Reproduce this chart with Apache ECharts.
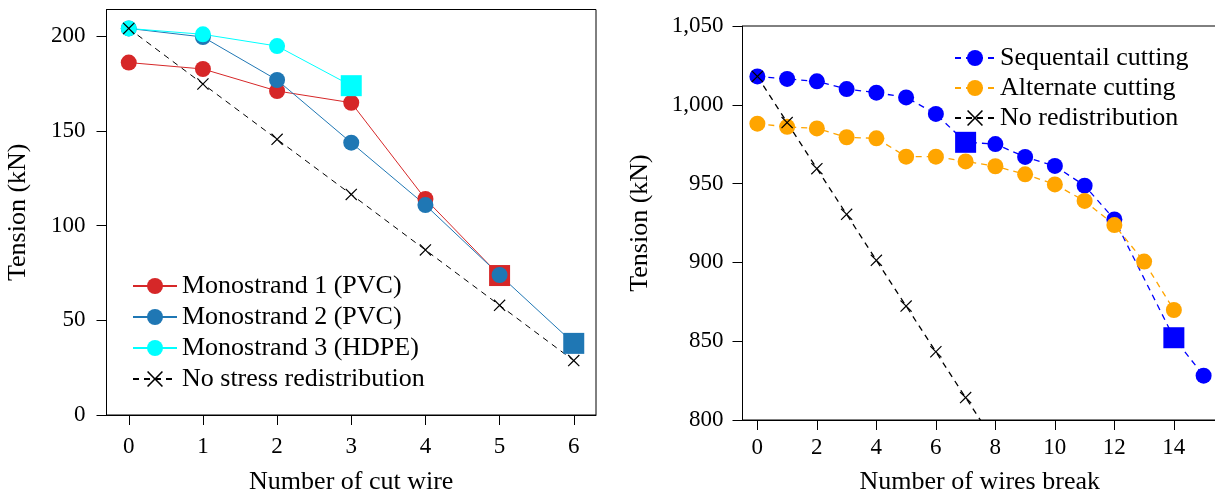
<!DOCTYPE html>
<html>
    <head>
        <meta charset="utf-8">
        <script src="https://cdn.jsdelivr.net/npm/echarts@6/dist/echarts.min.js"></script>
    </head>
    <body style="margin:0;background:#fff">
        <div id="main" style="width:1215px;height:494px"></div>
        <script type="text/javascript">
            // left chart: tension per monostrand vs number of cut wires
            var leftTicks = [0, 1, 2, 3, 4, 5, 6]
            var leftYTicks = [0, 50, 100, 150, 200]
            var mono1 = [186, 182.6, 171, 164.8, 114, 73.6]
            var mono2 = [204, 199.5, 176.8, 143.7, 110.8, 73.9, 37.8]
            var mono3 = [204, 200.9, 194.7, 173.8]
            var noStress = [204, 174.7, 145.5, 116.4, 87.1, 57.9, 28.7]

            // right chart: whole tendon vs number of wires broken
            var rightTicks = [0, 2, 4, 6, 8, 10, 12, 14]
            var rightYTicks = [800, 850, 900, 950, 1000, 1050]
            var sequential = [1018, 1016.4, 1014.9, 1010, 1007.7, 1004.7, 994.2, 976.2, 975.1, 966.9, 961.2, 948.7, 927.3, null, 852.2, 828.1]
            var seqSquares = [7, 14]
            var alternate = [988, 986, 985, 979.4, 978.7, 967.1, 967.1, 964.1, 961, 955.9, 949.5, 939, 923.7, 900.5, 869.8]
            var noRedist = [1018, 988.7, 959.5, 930.5, 901.3, 872.3, 843.3, 814.2, 785.5]

            var font = '"Liberation Serif", "DejaVu Serif", serif'
            var cross = 'path://M0,0.7L0.7,0L5,4.3L9.3,0L10,0.7L5.7,5L10,9.3L9.3,10L5,5.7L0.7,10L0,9.3L4.3,5Z'

            function pts(vals, squares) {
                var out = []
                vals.forEach(function (v, i) {
                    if (v === null) return
                    var item = { value: [i, v] }
                    if (squares && squares.indexOf(i) >= 0) {
                        item.symbol = 'rect'
                        item.symbolSize = 21
                    }
                    out.push(item)
                })
                return out
            }

            function lineSeries(name, vals, color, opts) {
                var s = {
                    name: name,
                    type: 'line',
                    data: pts(vals, opts.squares),
                    symbol: opts.symbol || 'circle',
                    symbolSize: opts.size || 16,
                    xAxisIndex: opts.idx,
                    yAxisIndex: opts.idx,
                    connectNulls: true,
                    lineStyle: { color: color, width: opts.width || 1, type: opts.dash ? [6, 5] : 'solid' },
                    itemStyle: { color: color },
                    emphasis: { disabled: true },
                    clip: true
                }
                return s
            }

            var axisText = { color: '#000', fontFamily: font, fontSize: 23 }
            var nameText = { color: '#000', fontFamily: font, fontSize: 26 }

            var option = {
                animation: false,
                grid: [
                    { left: 106.5, top: 9.5, right: 619, bottom: 79, outerBoundsMode: 'none', show: true, borderColor: '#000', borderWidth: 1 },
                    { left: 742.5, top: 26, right: -2, bottom: 74, outerBoundsMode: 'none', show: true, borderColor: '#000', borderWidth: 1 }
                ],
                legend: [
                    {
                        data: ['Monostrand 1 (PVC)', 'Monostrand 2 (PVC)', 'Monostrand 3 (HDPE)', 'No stress redistribution'],
                        orient: 'vertical', left: 127, top: 268,
                        itemWidth: 44, itemHeight: 20, itemGap: 5,
                        textStyle: { fontFamily: font, fontSize: 26, color: '#000' }
                    },
                    {
                        data: ['Sequentail cutting', 'Alternate cutting', 'No redistribution'],
                        orient: 'vertical', left: 949, top: 40,
                        itemWidth: 40, itemHeight: 20, itemGap: 4,
                        textStyle: { fontFamily: font, fontSize: 26, color: '#000' }
                    }
                ],
                xAxis: [
                    {
                        type: 'value', gridIndex: 0, min: -0.3, max: 6.3,
                        name: 'Number of cut wire', nameLocation: 'middle', nameGap: 54, nameTextStyle: nameText,
                        axisLine: { onZero: false, lineStyle: { color: '#000' } },
                        axisTick: { length: 10, customValues: leftTicks, lineStyle: { color: '#000' } },
                        axisLabel: Object.assign({ customValues: leftTicks, margin: 20 }, axisText),
                        splitLine: { show: false }
                    },
                    {
                        type: 'value', gridIndex: 1, min: -0.5, max: 15.45,
                        name: 'Number of wires break', nameLocation: 'middle', nameGap: 49, nameTextStyle: nameText,
                        axisLine: { onZero: false, lineStyle: { color: '#000' } },
                        axisTick: { length: 10, customValues: rightTicks, lineStyle: { color: '#000' } },
                        axisLabel: Object.assign({ customValues: rightTicks, margin: 16 }, axisText),
                        splitLine: { show: false }
                    }
                ],
                yAxis: [
                    {
                        type: 'value', gridIndex: 0, min: 0, max: 214,
                        name: 'Tension (kN)', nameLocation: 'middle', nameGap: 75, nameTextStyle: nameText,
                        axisLine: { show: true, onZero: false, lineStyle: { color: '#000' } },
                        axisTick: { show: true, length: 10, customValues: leftYTicks, lineStyle: { color: '#000' } },
                        axisLabel: Object.assign({ customValues: leftYTicks, margin: 21 }, axisText),
                        splitLine: { show: false }
                    },
                    {
                        type: 'value', gridIndex: 1, min: 800, max: 1050,
                        name: 'Tension (kN)', nameLocation: 'middle', nameGap: 89, nameTextStyle: nameText,
                        axisLine: { show: true, onZero: false, lineStyle: { color: '#000' } },
                        axisTick: { show: true, length: 10, customValues: rightYTicks, lineStyle: { color: '#000' } },
                        axisLabel: Object.assign({
                            customValues: rightYTicks, margin: 19,
                            formatter: function (v) { return v >= 1000 ? Math.floor(v / 1000) + ',' + String(v % 1000).padStart(3, '0') : String(v) }
                        }, axisText),
                        splitLine: { show: false }
                    }
                ],
                series: [
                    lineSeries('Monostrand 1 (PVC)', mono1, '#d62728', { idx: 0, squares: [mono1.length - 1] }),
                    lineSeries('Monostrand 2 (PVC)', mono2, '#1f77b4', { idx: 0, squares: [mono2.length - 1] }),
                    lineSeries('Monostrand 3 (HDPE)', mono3, '#00ffff', { idx: 0, squares: [mono3.length - 1] }),
                    lineSeries('No stress redistribution', noStress, '#000', { idx: 0, symbol: cross, size: 12, dash: true }),
                    lineSeries('Sequentail cutting', sequential, '#0000ff', { idx: 1, squares: seqSquares, dash: true, width: 1.3 }),
                    lineSeries('Alternate cutting', alternate, '#ffa500', { idx: 1, dash: true, width: 1.3 }),
                    lineSeries('No redistribution', noRedist, '#000', { idx: 1, symbol: cross, size: 12, dash: true, width: 1.3 })
                ]
            }

            var mycharts = echarts.init(document.getElementById('main'))
            mycharts.setOption(option)
        </script>
    </body>
</html>
